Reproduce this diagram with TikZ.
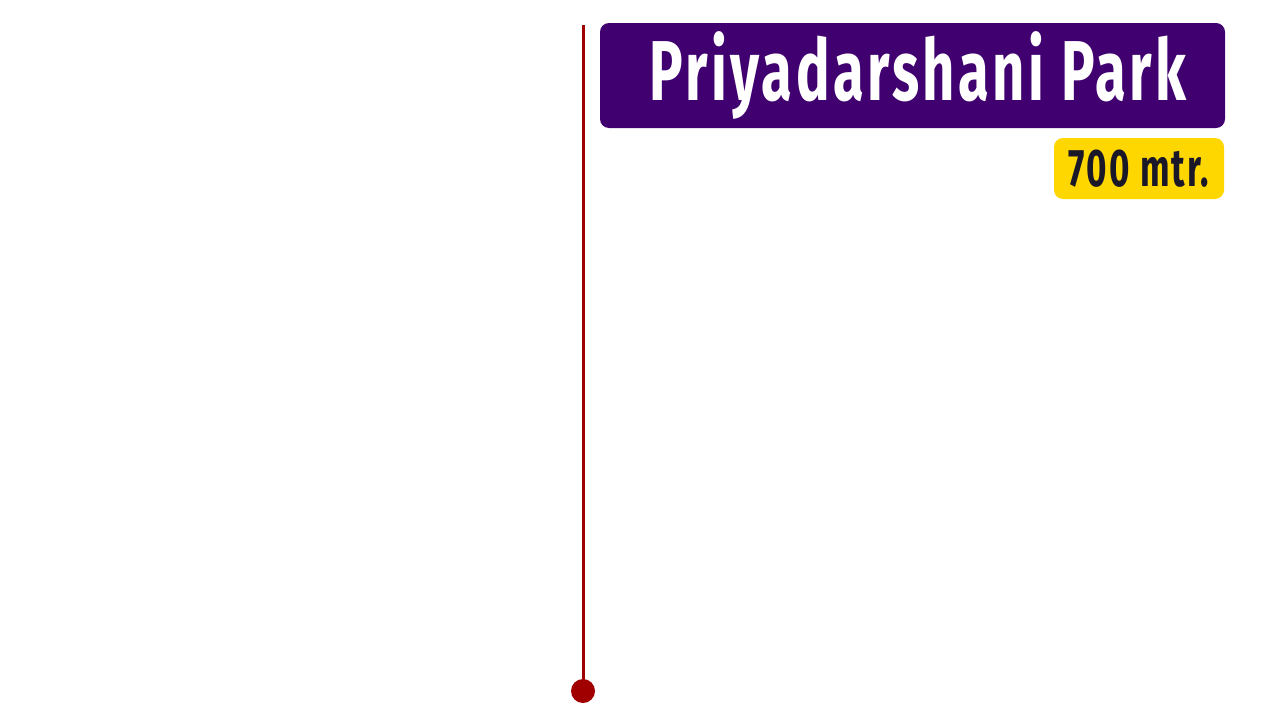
\documentclass[tikz,border=0pt]{standalone}
\usepackage{fontspec}
\newfontfamily\signfont[FakeStretch=0.66, LetterSpace=4]{Fira Sans Bold}
\usetikzlibrary{positioning}
\definecolor{routered}{RGB}{160,0,0}
\definecolor{signpurple}{RGB}{64,0,112}
\definecolor{signyellow}{RGB}{255,215,0}
\definecolor{signink}{RGB}{26,24,40}
\begin{document}
\begin{tikzpicture}[x=1pt, y=-1pt,
        namebox/.style={rectangle, rounded corners=9pt, fill=signpurple, text=white, minimum width=625pt, minimum height=105pt, inner sep=0pt, font=\signfont\fontsize{85}{85}\selectfont},
        distbox/.style={rectangle, rounded corners=9pt, fill=signyellow, text=signink, minimum width=170pt, minimum height=61pt, inner sep=0pt, font=\signfont\fontsize{53}{53}\selectfont},
        stopdot/.style={circle, fill=routered, minimum size=24pt, inner sep=0pt}]
        \useasboundingbox (0, 0) rectangle (1280, 720);

        \node[namebox] at (912.5, 75.5) (station) {\hspace*{11pt}\raisebox{-3pt}{Priyadarshani Park}};
        \node[distbox] at (1139, 168.5) (distance) {700 mtr.};

        \coordinate (linetop) at (583, 25);
        \node[stopdot] at (583, 691) (stop) {};

        \draw[routered, line width=3pt] (linetop) -- (stop.center);
        \end{tikzpicture}
\end{document}
